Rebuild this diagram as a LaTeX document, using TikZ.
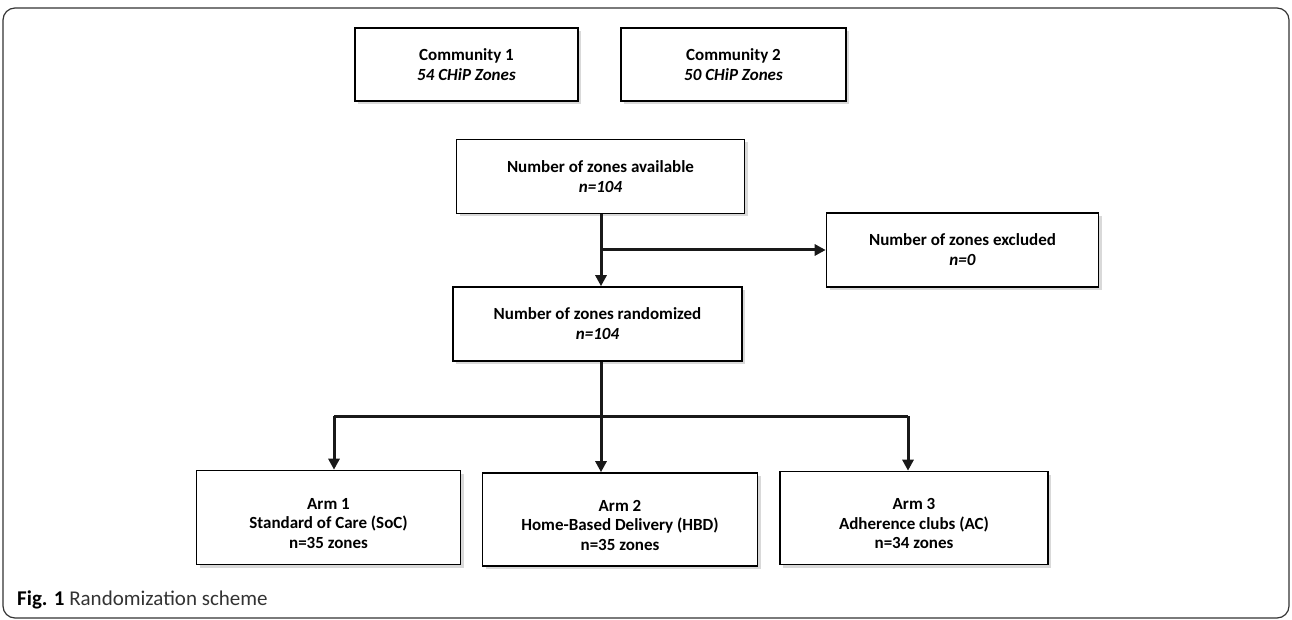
\documentclass[tikz,border=0pt]{standalone}
\usepackage{fontspec}
\setmainfont{Carlito}
\usetikzlibrary{arrows.meta,shadows}
\tikzset{
  box/.style={draw=black, line width=1.6pt, fill=white, align=center, inner sep=0pt,
    font=\fontsize{17}{20}\selectfont\bfseries,
    drop shadow={shadow xshift=3pt, shadow yshift=-3pt, opacity=0.3, fill=gray}},
  armbox/.style={box, font=\fontsize{17}{19.5}\selectfont\bfseries},
  conn/.style={line width=3pt, draw=black!90},
  arrow/.style={conn, -{Triangle[length=11pt,width=11pt]}},
  frame/.style={draw=black!80, line width=1.2pt, rounded corners=12pt}
}
\newcommand{\armstrut}{\rule{0pt}{23pt}}
\begin{document}
\begin{tikzpicture}[x=1pt,y=-1pt]
\useasboundingbox (0,0) rectangle (1292,620);
\draw[frame] (3,8) rectangle (1289,618);
\node[box, minimum width=223pt, minimum height=73pt] (c1) at (466.5,64.5) {Community 1\\\textit{54 CHiP Zones}};
\node[box, minimum width=225pt, minimum height=73pt] (c2) at (733.5,64.5) {Community 2\\\textit{50 CHiP Zones}};
\node[box, minimum width=288pt, minimum height=74pt] (avail) at (600.5,176.5) {Number of zones available\\\textit{n=104}};
\node[box, minimum width=272pt, minimum height=74pt] (excl) at (962.5,250) {Number of zones excluded\\\textit{n=0}};
\node[box, minimum width=289pt, minimum height=74pt] (rand) at (597.5,324) {Number of zones randomized\\\textit{n=104}};
\node[armbox, minimum width=264pt, minimum height=94pt] (arm1) at (328.5,517.5) {\armstrut Arm 1\\Standard of Care (SoC)\\n=35 zones};
\node[armbox, minimum width=275pt, minimum height=93pt] (arm2) at (620,519.5) {\armstrut Arm 2\\Home-Based Delivery (HBD)\\n=35 zones};
\node[armbox, minimum width=268pt, minimum height=93pt] (arm3) at (914,518) {\armstrut Arm 3\\Adherence clubs (AC)\\n=34 zones};
\coordinate (br) at (601,250);
\coordinate (split) at (601,416);
\coordinate (l) at (334,416);
\coordinate (r) at (908,416);
\draw[arrow] (br |- avail.south) -- (br |- rand.north);
\draw[arrow] (br) -- (excl.west);
\draw[conn] (split |- rand.south) -- (split);
\draw[conn] (l) -- (r);
\draw[arrow] (l) -- (l |- arm1.north);
\draw[arrow] (split) -- (split |- arm2.north);
\draw[arrow] (r) -- (r |- arm3.north);
\node[anchor=west, inner sep=0pt, font=\fontsize{21}{23}\selectfont] (cap) at (17,600) {\textbf{Fig. 1} \textcolor{black!80}{Randomization scheme}};
\end{tikzpicture}
\end{document}
